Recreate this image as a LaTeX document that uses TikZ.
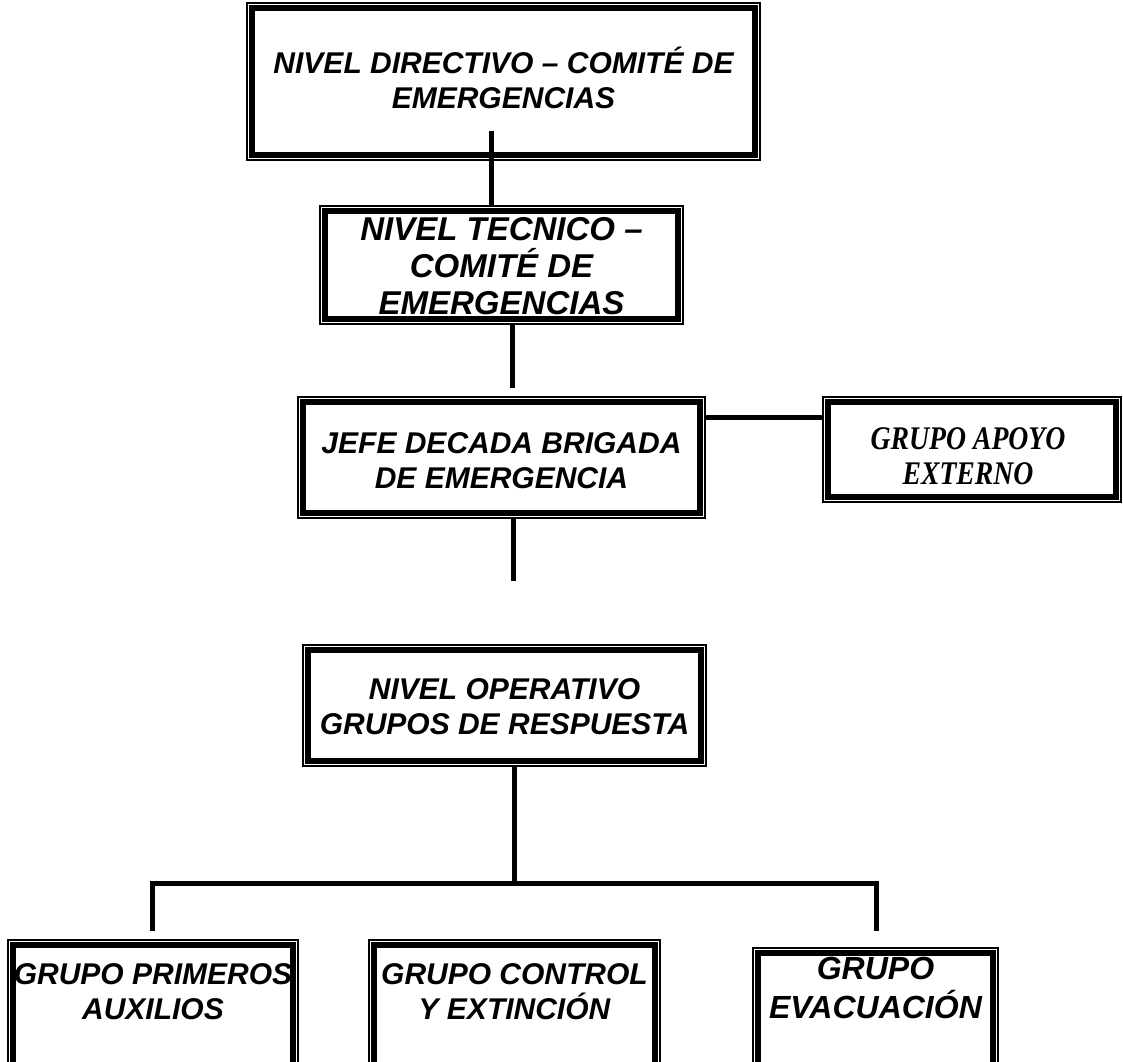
\documentclass[tikz,border=0pt]{standalone}
\usepackage{fontspec}
\setmainfont{Liberation Sans}
\newfontfamily\timesfont[FakeStretch=0.84]{Liberation Serif}
\usetikzlibrary{positioning}
\tikzset{
    boxn/.style = {rectangle, draw=black, line width=1pt, inner sep=0pt, align=center, fill=white},
    txtn/.style = {align=center, inner sep=0pt, font=\bfseries\itshape\fontsize{15}{17.5}\selectfont, text=black},
    txtl/.style = {align=center, inner sep=0pt, font=\bfseries\itshape\fontsize{16.5}{18.5}\selectfont, text=black},
    txtb/.style = {align=center, inner sep=0pt, font=\bfseries\itshape\fontsize{16}{19.5}\selectfont, text=black},
    txts/.style = {align=center, inner sep=0pt, font=\timesfont\bfseries\itshape\fontsize{16.5}{17.5}\selectfont, text=black},
    framen/.style = {line width=2.75pt, black},
    edgen/.style = {-, line width=2.5pt, black},
}

\begin{document}
\begin{tikzpicture}[x=0.5pt, y=-0.5pt]
\path[use as bounding box] (0, 0) rectangle (1123, 1061);
%
\node[boxn, minimum width=256.5pt, minimum height=78.5pt] at (503.5, 81.5) (dir) {};
\node[boxn, minimum width=181.5pt, minimum height=59pt] at (501.5, 265) (tec) {};
\node[boxn, minimum width=203.5pt, minimum height=60.5pt] at (501.5, 457.5) (jefe) {};
\node[boxn, minimum width=149pt, minimum height=52.5pt] at (972, 449.5) (apoyo) {};
\node[boxn, minimum width=201.5pt, minimum height=60.5pt] at (504.5, 705.5) (oper) {};
\node[boxn, minimum width=145pt, minimum height=68pt] at (153, 1008) (prim) {};
\node[boxn, minimum width=145.5pt, minimum height=68pt] at (514.5, 1008) (ctrl) {};
\node[boxn, minimum width=122.5pt, minimum height=64pt] at (875.5, 1012) (evac) {};
%
\foreach \n in {dir, tec, jefe, apoyo, oper, prim, ctrl, evac}
    \draw[framen] ([shift={(3pt,-3pt)}]\n.north west) rectangle ([shift={(-3pt,3pt)}]\n.south east);
%
\node[txtn] at (503.5, 78) (dirt) {NIVEL DIRECTIVO -- COMITÉ DE\\EMERGENCIAS};
\node[txtl] at (501.5, 266) (tect) {NIVEL TECNICO --\\COMITÉ DE\\EMERGENCIAS};
\node[txtn] at (501.5, 461) (jefet) {JEFE DECADA BRIGADA\\DE EMERGENCIA};
\node[txts] at (968, 456) (apoyot) {GRUPO APOYO\\EXTERNO};
\node[txtn] at (504.5, 707) (opert) {NIVEL OPERATIVO\\GRUPOS DE RESPUESTA};
\node[txtn] at (153, 992) (primt) {GRUPO PRIMEROS\\AUXILIOS};
\node[txtn] at (514.5, 992) (ctrlt) {GRUPO CONTROL\\Y EXTINCIÓN};
\node[txtb] at (875.5, 988) (evact) {GRUPO\\EVACUACIÓN};
%
\coordinate (tecend) at (512, 388);
\coordinate (jefeend) at (513, 581);
\coordinate (busc) at (514, 883);
\coordinate (busl) at (152, 883);
\coordinate (busr) at (876, 883);
\coordinate (dropl) at (152, 931);
\coordinate (dropr) at (876, 931);
%
\draw[edgen] ([shift={(-6.25pt,15pt)}]dir.south) -- ([xshift=-5.25pt]tec.north);
\draw[edgen] ([xshift=5.25pt]tec.south) -- (tecend);
\draw[edgen] ([yshift=-10.5pt]jefe.north east) -- ([yshift=-10.5pt]apoyo.north west);
\draw[edgen] ([xshift=5.75pt]jefe.south) -- (jefeend);
\draw[edgen] ([xshift=4.75pt]oper.south) -- (busc);
\draw[edgen] (dropl) -- (busl) -- (busr) -- (dropr);
\end{tikzpicture}
\end{document}
